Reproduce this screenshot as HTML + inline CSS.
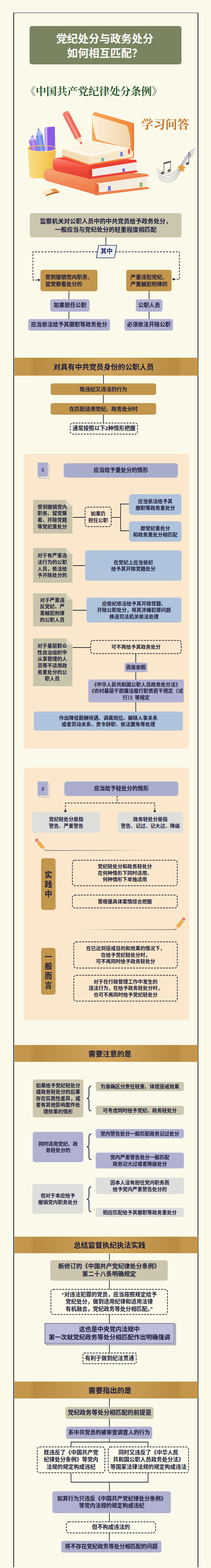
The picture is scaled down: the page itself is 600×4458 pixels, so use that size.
<!DOCTYPE html>
<html lang="zh-CN"><head><meta charset="utf-8"><title>党纪处分与政务处分如何相互匹配</title>
<style>
html,body{margin:0;padding:0}
html{width:600px;height:4458px;overflow:hidden}
body{width:600px;height:4458px;background:#fbfaea;position:relative;overflow:hidden;font-family:"Liberation Sans","Noto Sans CJK SC",sans-serif;color:#1c1c3a}
#frame{position:absolute;left:38.3px;top:36.2px;width:521.5px;height:4419.3px;border:2.5px solid #0c0c0c;border-top-width:1.8px;border-bottom:none;box-sizing:content-box}
.title{position:absolute;background:#7a8460;border-radius:7px;color:#fff;font-weight:bold;font-size:30.7px;line-height:41px;padding-top:5px;padding-right:4px;box-sizing:border-box;text-align:center;display:flex;align-items:center;justify-content:center;white-space:nowrap}
.b{position:absolute;display:flex;align-items:center;justify-content:center;text-align:center;font-weight:bold;white-space:nowrap;box-sizing:border-box;border-radius:6px;line-height:1.32}
.f13{font-size:14px}.f14{font-size:15.5px}.f15{font-size:17px}.f17{font-size:17px;line-height:24px;padding-top:2px}
.left{text-align:left}
.gold{background:#c3964d;font-size:15px !important}
.lav{background:#b1b2d2}
.lav2{background:#bcbeda;border:1.8px solid #1a1a44;border-radius:0;font-size:17.3px !important}
.dbl{position:absolute;border:1.5px solid #1a1a44;box-sizing:border-box;background:#e9e9f1}
.blue{background:#afc3dc}
.beige{background:#ccc6af}
.gray{background:#dededc}
.dash{}
.fill{}
.r8{border-radius:8px}.lav.r8{background:#a9accd}.r3{border-radius:3px}
.band{position:absolute;left:40.5px;width:522px;background:#c4964c;display:flex;align-items:center;justify-content:center;font-weight:bold;font-size:20.4px;color:#1c1c3a}
.band span{position:absolute;width:400px;text-align:center;white-space:nowrap}
.bandin{position:absolute;left:45px;right:47px;top:0;bottom:0;background:linear-gradient(90deg,#c0924a 0%,#b98b42 3%,#c99d55 35%,#cfa45c 50%,#c99d55 65%,#b98b42 97%,#c0924a 100%)}
.panel{position:absolute;background:#fbe8cc;border-radius:9px}
.num{position:absolute;width:29px;height:40px;background:#abaed0;font-weight:bold;font-size:13px;display:flex;align-items:center;justify-content:center}
.numbg{position:absolute;width:29px;height:40px;border:1px solid #9a9cba;box-sizing:border-box;background:#f3e6d6}
.note{background:#c8c4ab;border-radius:0;line-height:1.33;padding-right:3px}
.note i{position:absolute;right:0;top:0;width:18px;height:18px;background:linear-gradient(45deg,#dcd7c0 50%,#fbe8cc 50%)}
.vlabel{position:absolute;background:#c3964d;border-radius:7px;font-weight:bold;font-size:21.5px;line-height:27px;box-sizing:border-box;display:flex;align-items:center;justify-content:center;text-align:center}
svg.ov{position:absolute;left:0;top:0;z-index:1}
.b,.title,.vlabel,.num{z-index:2}
.numbg{z-index:1}
</style></head><body>
<div id="frame"></div>
<div class="title" style="left:84px;top:74px;width:432px;height:109px"><span>党纪处分与政务处分<br>如何相互匹配？</span></div>
<div class="b beige f17" style="left:85px;top:606px;width:431px;height:69px;"><span>监察机关对公职人员中的中共党员给予政务处分，<br>一般应当与党纪处分的轻重程度相匹配</span></div>
<div class="b" style="left:274px;top:697.5px;width:58px;height:36px;color:#1f2a6b;font-size:17px"><span>其中</span></div>
<div class="b gold f14 left" style="left:115px;top:767px;width:162px;height:61px;"><span>受到撤销党内职务、<br>留党察看处分的</span></div>
<div class="b gold f14 left" style="left:359px;top:767px;width:129px;height:61px;"><span>严重违犯党纪、<br>严重触犯刑律的</span></div>
<div class="b lav f14" style="left:143px;top:851px;width:112px;height:35px;"><span>如果担任公职</span></div>
<div class="b lav f14" style="left:80px;top:907px;width:233px;height:33px;"><span>应当依法给予其撤职等政务处分</span></div>
<div class="b lav f14" style="left:386px;top:851px;width:76px;height:35px;"><span>公职人员</span></div>
<div class="b lav f14" style="left:354px;top:907px;width:138px;height:33px;"><span>必须依法开除公职</span></div>
<div class="band" style="top:1016.5px;height:51.0px"><div class="bandin"></div><span style="left:54px">对具有中共党员身份的公职人员</span></div>
<div class="b gold f14" style="left:144px;top:1090px;width:300px;height:33px;"><span>既违纪又违法的行为</span></div>
<div class="b gold f14" style="left:144px;top:1146px;width:300px;height:33px;"><span>在匹配适用党纪、政务处分时</span></div>
<div class="b dash f14" style="left:199px;top:1202px;width:193px;height:33px;"><span>通常按照以下2种情形把握</span></div>
<div class="panel" style="left:68px;top:1289.5px;width:469.5px;height:839.5px"></div>
<div class="numbg" style="left:111px;top:1320px"></div><div class="num" style="left:107px;top:1315px">1</div>
<div class="b lav f14 r8" style="left:181px;top:1317px;width:325px;height:41px;"><span>应当给予重处分的情形</span></div>
<div class="b note f13" style="left:94px;top:1421px;width:112px;height:96px"><i></i><span>受到撤销党内<br>职务、留党察<br>看、开除党籍<br>等党纪重处分</span></div>
<div class="b dash f13" style="left:241px;top:1441px;width:76px;height:57px;"><span>如果仍<br>担任公职</span></div>
<div class="b blue f13 r8" style="left:367px;top:1405px;width:149px;height:59px;"><span>应当依法给予其<br>撤职等政务重处分</span></div>
<div class="b blue f13 r8" style="left:367px;top:1482px;width:149px;height:58px;"><span>即党纪重处分<br>和政务重处分相匹配</span></div>
<div class="b note f13" style="left:94px;top:1558px;width:112px;height:99px"><i></i><span>对于有严重违<br>法行为的公职<br>人员，依法给<br>予开除处分的</span></div>
<div class="b blue f13" style="left:242px;top:1565px;width:274px;height:86px;"><span>在党纪上应当依纪<br>给予其开除党籍处分</span></div>
<div class="b note f13" style="left:94px;top:1687px;width:112px;height:94px"><i></i><span>对于严重违<br>反党纪、严<br>重触犯刑律<br>的公职人员</span></div>
<div class="b blue f13" style="left:246px;top:1699px;width:270px;height:71px;"><span>应依纪依法给予其开除党籍、<br>开除公职处分，将其涉嫌犯罪问题<br>移送司法机关依法处理</span></div>
<div class="b note f13" style="left:94px;top:1815px;width:112px;height:136px"><i></i><span>对于基层群众<br>性自治组织中<br>从事管理的人<br>员等不适用政<br>务重处分的公<br>职人员</span></div>
<div class="b dash f13" style="left:257px;top:1820px;width:259px;height:39px;"><span>可不再给予其政务处分</span></div>
<div class="b lav f13" style="left:354px;top:1884px;width:65px;height:27px;"><span>而是依照</span></div>
<div class="b lav f13" style="left:251px;top:1932px;width:272px;height:65px;"><span>《中华人民共和国公职人员政务处分法》<br>《农村基层干部廉洁履行职责若干规定（试<br>行）》等规定</span></div>
<div class="b blue f13" style="left:96px;top:2023px;width:424px;height:54px;"><span>作出降低薪酬待遇、调离岗位、解除人事关系<br>或者劳动关系、责令辞职、依法罢免等处理</span></div>
<div class="panel" style="left:68px;top:2181.5px;width:469.5px;height:719px"></div>
<div class="numbg" style="left:111px;top:2227px"></div><div class="num" style="left:107px;top:2222px">2</div>
<div class="b lav f14 r8" style="left:183px;top:2222px;width:324px;height:41px;"><span>应当给予轻处分的情形</span></div>
<div class="b gray f13" style="left:91px;top:2309px;width:194px;height:59px;"><span>党纪轻处分是指<br>警告、严重警告</span></div>
<div class="b gray f13" style="left:335px;top:2309px;width:185px;height:59px;"><span>政务轻处分是指<br>警告、记过、记大过、降级</span></div>
<div class="vlabel" style="left:117px;top:2440px;width:41px;height:147px;padding-top:4px">实<br>践<br>中</div>
<div class="b dash f13" style="left:205px;top:2445px;width:300px;height:74px;"><span>党纪轻处分和政务轻处分<br>在何种情形下同时适用、<br>何种情形下单独适用</span></div>
<div class="b dash f13" style="left:205px;top:2544px;width:300px;height:38px;"><span>需根据具体案情综合把握</span></div>
<div class="vlabel" style="left:117px;top:2695px;width:41px;height:133px">一<br>般<br>而<br>言</div>
<div class="b dash f13" style="left:209px;top:2677px;width:296px;height:76px;"><span>在已达到惩戒目的和效果的情况下，<br>在给予党纪轻处分时，<br>可不再同时给予政务轻处分</span></div>
<div class="b dash f13" style="left:209px;top:2772px;width:296px;height:75px;"><span>对于在行政管理工作中发生的<br>违法行为，在给予政务轻处分时，<br>也可不再同时给予党纪轻处分</span></div>
<div class="band" style="top:2970.5px;height:48.5px"><div class="bandin"></div><span style="left:72px">需要注意的是</span></div>
<div class="b beige f13" style="left:93px;top:3069px;width:144px;height:108px;"><span>如果给予党纪轻处分<br>或政务轻处分的后果<br>存在实质性差异，或<br>者有其他影响案件处<br>理效果的情形</span></div>
<div class="b beige f13" style="left:272px;top:3076px;width:251px;height:26px;"><span>为准确区分责任轻重、体现惩戒效果</span></div>
<div class="b beige f13" style="left:272px;top:3144px;width:251px;height:26px;"><span>可考虑同时给予党纪、政务轻处分</span></div>
<div class="b lav f13" style="left:93px;top:3218px;width:144px;height:86px;"><span>同时适用党纪、政<br>务轻处分的</span></div>
<div class="b lav f13" style="left:272px;top:3210px;width:251px;height:26px;"><span>党内警告处分一般匹配政务记过处分</span></div>
<div class="b lav f13" style="left:272px;top:3277px;width:251px;height:45px;"><span>党内严重警告处分一般匹配<br>政务记大过或者降级处分</span></div>
<div class="b gray f13" style="left:92px;top:3366px;width:145px;height:85px;"><span>但对于本应给予<br>撤销党内职务处分</span></div>
<div class="b gray f13" style="left:272px;top:3348px;width:251px;height:47px;"><span>因本人没有担任党内职务而<br>给予党内严重警告处分的</span></div>
<div class="b gray f13" style="left:272px;top:3434px;width:251px;height:26px;"><span>则应匹配给予其撤职等政务重处分</span></div>
<div class="band" style="top:3516px;height:46.5px"><div class="bandin"></div><span style="left:71px">总结监督执纪执法实践</span></div>
<div class="b beige f15" style="left:143px;top:3583px;width:334px;height:58px;"><span>新修订的《中国共产党纪律处分条例》<br>第二十八条明确规定</span></div>
<div class="b dash f14" style="left:144px;top:3665px;width:333px;height:73px;"><span>“对违法犯罪的党员，应当按照规定给予<br>党纪处分，做到适用纪律和适用法律<br>有机融合，党纪政务等处分相匹配。”</span></div>
<div class="dbl" style="left:130.5px;top:3766px;width:369.5px;height:58px"></div>
<div class="b lav2 f15" style="left:126.5px;top:3762px;width:369.5px;height:57.5px;"><span>这也是中央党内法规中<br>第一次就党纪政务等处分相匹配作出明确强调</span></div>
<div class="b dash f14 r3" style="left:235px;top:3846px;width:153px;height:32px;"><span>有利于做到纪法贯通</span></div>
<div class="band" style="top:3927.5px;height:48.0px"><div class="bandin"></div><span style="left:72px">需要指出的是</span></div>
<div class="b beige f15" style="left:186px;top:4000px;width:251px;height:34px;"><span>党纪政务等处分相匹配的前提是</span></div>
<div class="b lav f14" style="left:188px;top:4056px;width:245px;height:35px;"><span>系中共党员的被审查调查人的行为</span></div>
<div class="b dash f14 fill" style="left:105px;top:4113px;width:194px;height:75px;"><span>既违反了《中国共产党<br>纪律处分条例》等党内<br>法规的规定构成违纪</span></div>
<div class="b dash f14 fill" style="left:307px;top:4113px;width:230px;height:75px;"><span>同时又违反了《中华人民<br>共和国公职人员政务处分法》<br>等国家法律法规的规定构成违法</span></div>
<div class="b lav f14" style="left:149px;top:4240px;width:337px;height:62px;"><span>如其行为只违反《中国共产党纪律处分条例》<br>等党内法规的规定构成违纪</span></div>
<div class="b dash f14 fill" style="left:188px;top:4326px;width:255px;height:33px;"><span>但不构成违法的</span></div>
<div class="b lav f14" style="left:174px;top:4381px;width:285px;height:33px;"><span>将不存在党纪政务等处分相匹配的问题</span></div>
<svg class="ov" width="600" height="4458" viewBox="0 0 600 4458">
<path d="M301 674V698" fill="none" stroke="#1f1f2e" stroke-width="1.8"/>
<path d="M280.5 697.5H332L325.5 733H274Z" fill="#eef0ee" stroke="#1f2a6b" stroke-width="1.7"/>
<path d="M276 716H93.5V796H108" fill="none" stroke="#1f1f2e" stroke-width="1.9" stroke-dasharray="5.5 3.5"/>
<path d="M108 792L115 796L108 800Z" fill="#1f1f2e"/>
<path d="M329 716H510V794H496" fill="none" stroke="#1f1f2e" stroke-width="1.9" stroke-dasharray="5.5 3.5"/>
<path d="M496 790L489 794L496 798Z" fill="#1f1f2e"/>
<path d="M196 828V851" fill="none" stroke="#1f1f2e" stroke-width="1.8"/>
<path d="M196 886V907" fill="none" stroke="#1f1f2e" stroke-width="1.8"/>
<path d="M424 828V851" fill="none" stroke="#1f1f2e" stroke-width="1.8"/>
<path d="M424 886V907" fill="none" stroke="#1f1f2e" stroke-width="1.8"/>
<path d="M294 1066V1090" fill="none" stroke="#1f1f2e" stroke-width="1.8"/>
<path d="M294 1123V1146" fill="none" stroke="#1f1f2e" stroke-width="1.8"/>
<path d="M294 1179V1202" fill="none" stroke="#1f1f2e" stroke-width="1.8"/>
<rect x="199.8" y="1202.8" width="191.4" height="31.4" rx="7" fill="none" stroke="#17172a" stroke-width="1.9" stroke-dasharray="5.5 3"/>
<path d="M207 1471H241" fill="none" stroke="#1f1f2e" stroke-width="1.8"/>
<rect x="241.8" y="1441.8" width="74.4" height="55.4" rx="7" fill="none" stroke="#17172a" stroke-width="1.9" stroke-dasharray="5.5 3"/>
<path d="M317 1471H343" fill="none" stroke="#1f1f2e" stroke-width="1.8"/>
<path d="M367 1433H343V1509H367" fill="none" stroke="#1f1f2e" stroke-width="1.8"/>
<path d="M207 1608H242" fill="none" stroke="#1f1f2e" stroke-width="1.8"/>
<path d="M207 1735H246" fill="none" stroke="#1f1f2e" stroke-width="1.8"/>
<path d="M207 1841H257" fill="none" stroke="#1f1f2e" stroke-width="1.8"/>
<rect x="257.8" y="1820.8" width="257.4" height="37.4" rx="7" fill="none" stroke="#17172a" stroke-width="1.9" stroke-dasharray="5.5 3"/>
<path d="M386 1859V1884" fill="none" stroke="#1f1f2e" stroke-width="1.8"/>
<path d="M386 1911V1932" fill="none" stroke="#1f1f2e" stroke-width="1.8"/>
<path d="M386 1997V2023" fill="none" stroke="#1f1f2e" stroke-width="1.8"/>
<path d="M333 2263V2283" fill="none" stroke="#1f1f2e" stroke-width="1.9" stroke-dasharray="5.5 3.5"/>
<path d="M186 2304V2283H440V2304" fill="none" stroke="#1f1f2e" stroke-width="1.9" stroke-dasharray="5.5 3.5"/>
<circle cx="186" cy="2306" r="3" fill="#1f1f2e"/><circle cx="440" cy="2306" r="3" fill="#1f1f2e"/>
<rect x="205.8" y="2445.8" width="298.4" height="72.4" rx="7" fill="none" stroke="#17172a" stroke-width="1.9" stroke-dasharray="5.5 3"/>
<rect x="205.8" y="2544.8" width="298.4" height="36.4" rx="7" fill="none" stroke="#17172a" stroke-width="1.9" stroke-dasharray="5.5 3"/>
<rect x="209.8" y="2677.8" width="294.4" height="74.4" rx="7" fill="none" stroke="#17172a" stroke-width="1.9" stroke-dasharray="5.5 3"/>
<rect x="209.8" y="2772.8" width="294.4" height="73.4" rx="7" fill="none" stroke="#17172a" stroke-width="1.9" stroke-dasharray="5.5 3"/>
<path d="M259 3088Q253 3088 253 3096V3115.0Q253 3123.0 247 3123.0Q253 3123.0 253 3131.0V3150Q253 3158 259 3158" fill="none" stroke="#17173a" stroke-width="2.1" stroke-linecap="round"/>
<path d="M259 3224Q253 3224 253 3232V3252.5Q253 3260.5 247 3260.5Q253 3260.5 253 3268.5V3289Q253 3297 259 3297" fill="none" stroke="#17173a" stroke-width="2.1" stroke-linecap="round"/>
<path d="M259 3374Q253 3374 253 3382V3401.5Q253 3409.5 247 3409.5Q253 3409.5 253 3417.5V3437Q253 3445 259 3445" fill="none" stroke="#17173a" stroke-width="2.1" stroke-linecap="round"/>
<path d="M311 3564V3583" fill="none" stroke="#1f1f2e" stroke-width="1.8"/>
<path d="M311 3641V3665" fill="none" stroke="#1f1f2e" stroke-width="1.8"/>
<path d="M311 3738V3762" fill="none" stroke="#1f1f2e" stroke-width="1.8"/>
<path d="M311 3823V3846" fill="none" stroke="#1f1f2e" stroke-width="1.8"/>
<rect x="144.8" y="3665.8" width="331.4" height="71.4" rx="7" fill="none" stroke="#17172a" stroke-width="1.9" stroke-dasharray="5.5 3"/>
<rect x="235.8" y="3846.8" width="151.4" height="30.4" rx="3" fill="none" stroke="#17172a" stroke-width="1.9" stroke-dasharray="5.5 3"/>
<path d="M311 3976V4000" fill="none" stroke="#1f1f2e" stroke-width="1.8"/>
<path d="M311 4034V4056" fill="none" stroke="#1f1f2e" stroke-width="1.8"/>
<path d="M311 4091V4100" fill="none" stroke="#1f1f2e" stroke-width="1.8"/>
<path d="M311 4214V4240" fill="none" stroke="#1f1f2e" stroke-width="1.8"/>
<path d="M311 4302V4326" fill="none" stroke="#1f1f2e" stroke-width="1.8"/>
<path d="M311 4359V4381" fill="none" stroke="#1f1f2e" stroke-width="1.8"/>
<path d="M202 4113V4100H421V4113" fill="none" stroke="#1f1f2e" stroke-width="1.8"/>
<path d="M202 4188V4214H421V4188" fill="none" stroke="#1f1f2e" stroke-width="1.8"/>
<rect x="105.8" y="4113.8" width="192.4" height="73.4" rx="7" fill="#fbfaea" stroke="#17172a" stroke-width="1.9" stroke-dasharray="5.5 3"/>
<rect x="307.8" y="4113.8" width="228.4" height="73.4" rx="7" fill="#fbfaea" stroke="#17172a" stroke-width="1.9" stroke-dasharray="5.5 3"/>
<rect x="188.8" y="4326.8" width="253.4" height="31.4" rx="7" fill="#fbfaea" stroke="#17172a" stroke-width="1.9" stroke-dasharray="5.5 3"/>
</svg>
<svg class="art" width="600" height="4458" viewBox="0 0 600 4458" style="position:absolute;left:0;top:0;z-index:1">
<defs>
<linearGradient id="gCup" x1="0" x2="1" y1="0" y2="0"><stop offset="0" stop-color="#f9df8a"/><stop offset=".5" stop-color="#f6cf62"/><stop offset="1" stop-color="#efb844"/></linearGradient>
<linearGradient id="gRed" x1="0" x2="0" y1="0" y2="1"><stop offset="0" stop-color="#f9897a"/><stop offset=".45" stop-color="#f2503f"/><stop offset="1" stop-color="#e23c30"/></linearGradient>
<linearGradient id="gOr" x1="0" x2="0" y1="0" y2="1"><stop offset="0" stop-color="#f7a878"/><stop offset=".5" stop-color="#f28a58"/><stop offset="1" stop-color="#ee7444"/></linearGradient>
<linearGradient id="gPg" x1="0" x2="1" y1="0" y2="0"><stop offset="0" stop-color="#fdf2dc"/><stop offset="1" stop-color="#f2d3a8"/></linearGradient>
<linearGradient id="gCov" x1="0" x2="1" y1="0" y2="0"><stop offset="0" stop-color="#f7a65a"/><stop offset="1" stop-color="#f2873a"/></linearGradient>
<linearGradient id="gL1" gradientUnits="userSpaceOnUse" x1="129" x2="415" y1="0" y2="0"><stop offset="0" stop-color="#555" stop-opacity="1"/><stop offset=".6" stop-color="#777" stop-opacity=".8"/><stop offset="1" stop-color="#999" stop-opacity="0"/></linearGradient>
<linearGradient id="gL2" gradientUnits="userSpaceOnUse" x1="501" x2="222" y1="0" y2="0"><stop offset="0" stop-color="#555" stop-opacity="1"/><stop offset=".6" stop-color="#777" stop-opacity=".8"/><stop offset="1" stop-color="#999" stop-opacity="0"/></linearGradient>
</defs>
<text x="266.5" y="270" font-size="30" font-weight="bold" fill="#2c5a30" text-anchor="middle" font-family="&quot;Liberation Serif&quot;,&quot;Noto Serif CJK SC&quot;,serif">《中国共产党纪律处分条例》</text>
<text x="470" y="366" font-size="34" font-weight="bold" fill="#c6742c" text-anchor="middle" font-family="&quot;Liberation Serif&quot;,&quot;Noto Serif CJK SC&quot;,serif">学习问答</text>
<ellipse cx="119" cy="422" rx="40" ry="9" fill="#e3a02c"/>
<path d="M92 384L82 400L103 397Z" fill="#d2b8f6"/><path d="M92 384L89 389L96 388Z" fill="#8a5be0"/>
<path d="M82 400L103 397L109 432L89 434Z" fill="#a274ea"/><path d="M89 399L96 398L102 433L95 434Z" fill="#b791f1"/>
<path d="M109 364L102 386L121 383Z" fill="#a9bdf6"/><path d="M109 364L107 370L113 369Z" fill="#5a78dc"/>
<path d="M102 386L121 383L128 432L109 434Z" fill="#6f8de8"/><path d="M108 385L115 384L122 433L115 434Z" fill="#8fa8f2"/>
<path d="M126 366Q126 362 130 362L152 360Q156 360 156 364L157 432L127 432Z" fill="#8a5ce6"/>
<path d="M126 366Q126 362 130 362L134 361.6L135 432L127 432Z" fill="#cfbcf8"/>
<path d="M127 368H131" stroke="#8a5ce6" stroke-width="1"/>
<path d="M127 373H131" stroke="#8a5ce6" stroke-width="1"/>
<path d="M127 378H131" stroke="#8a5ce6" stroke-width="1"/>
<path d="M127 383H131" stroke="#8a5ce6" stroke-width="1"/>
<path d="M127 388H131" stroke="#8a5ce6" stroke-width="1"/>
<path d="M127 393H131" stroke="#8a5ce6" stroke-width="1"/>
<path d="M127 398H131" stroke="#8a5ce6" stroke-width="1"/>
<path d="M127 403H131" stroke="#8a5ce6" stroke-width="1"/>
<path d="M127 408H131" stroke="#8a5ce6" stroke-width="1"/>
<path d="M127 413H131" stroke="#8a5ce6" stroke-width="1"/>
<path d="M127 418H131" stroke="#8a5ce6" stroke-width="1"/>
<path d="M127 423H131" stroke="#8a5ce6" stroke-width="1"/>
<path d="M79 422A40 9 0 0 0 159 422L155 499Q154 507 141 507L98 507Q85 507 84 499Z" fill="url(#gCup)"/>
<path d="M79 422A40 9 0 0 0 159 422" fill="none" stroke="#fbe08a" stroke-width="2.5"/>
<path d="M79.5 421A40 9 0 0 1 158.5 421" fill="none" stroke="#f3c552" stroke-width="2"/>
<path d="M136 480L270 511L270 553L136 515Q124 511 124 497Q124 483 136 480Z" fill="url(#gOr)"/>
<path d="M136 480L252 476L420 495L270 512Z" fill="#f08a56"/>
<path d="M270 511L420 495L424 501L282 521L270 519Z" fill="#f0824c"/>
<path d="M281 521L420 501L420 532L281 548Z" fill="#f7efe3"/>
<path d="M283 526.4L420 507.2" stroke="#e3d6c6" stroke-width=".8"/>
<path d="M283 531.8L420 513.4" stroke="#e3d6c6" stroke-width=".8"/>
<path d="M283 537.2L420 519.6" stroke="#e3d6c6" stroke-width=".8"/>
<path d="M283 542.6L420 525.8" stroke="#e3d6c6" stroke-width=".8"/>
<path d="M270 519Q279 521 281 528L281 548L270 553Z" fill="#e8693c"/>
<path d="M270 549L281 547L420 531L425 537L270 556Z" fill="#f0824c"/>
<path d="M307 529h8v16l-4-4-4 4z" fill="#7a78d6"/><path d="M397 519h8v14l-4-3-4 3z" fill="#7cc05a"/>
<path d="M160 449L253 472L253 508L160 486Q150 482 150 467Q150 452 160 449Z" fill="url(#gRed)"/>
<path d="M160 449L250 440L388 455L253 473Z" fill="#ee4a3c"/>
<path d="M253 471L386 454L390 461L263 481L253 478Z" fill="#ea4034"/>
<path d="M262 481L388 461L388 486L262 504Z" fill="#f4efec"/>
<path d="M264 485.6L388 466" stroke="#ddd5d0" stroke-width=".8"/>
<path d="M264 490.2L388 471" stroke="#ddd5d0" stroke-width=".8"/>
<path d="M264 494.8L388 476" stroke="#ddd5d0" stroke-width=".8"/>
<path d="M264 499.4L388 481" stroke="#ddd5d0" stroke-width=".8"/>
<path d="M253 478Q261 480 262 486L262 503L253 508Z" fill="#d8342c"/>
<path d="M253 504L262 502L388 484L392 489L253 510Z" fill="#ea4034"/>
<path d="M348 479h7v12l-3.5-3-3.5 3z" fill="#8a64c8"/>
<path d="M269 318L377 349L381 353L381 428L371 433L262 400L262 327Z" fill="url(#gCov)"/>
<path d="M377 349L381 353L381 428L377 431Z" fill="#e8742e"/>
<path d="M262 327L361 357Q373 386 371 421Q330 413 274 396Q262 360 262 327Z" fill="url(#gPg)"/>
<path d="M264 339Q310 349.5 362.8 368" fill="none" stroke="#eccba0" stroke-width=".8" opacity=".12"/>
<path d="M266 351Q310 361.0 364.6 379" fill="none" stroke="#eccba0" stroke-width=".8" opacity=".12"/>
<path d="M268 363Q310 372.5 366.4 390" fill="none" stroke="#eccba0" stroke-width=".8" opacity=".12"/>
<path d="M270 375Q310 384.0 368.2 401" fill="none" stroke="#eccba0" stroke-width=".8" opacity=".12"/>
<path d="M272 387Q310 395.5 370.0 412" fill="none" stroke="#eccba0" stroke-width=".8" opacity=".12"/>
<path d="M284 348.6L288 396.4" stroke="#f1d6b0" stroke-width="1.6" opacity=".45"/>
<path d="M300 353.4L304 399.6" stroke="#f1d6b0" stroke-width="1.6" opacity=".45"/>
<path d="M316 358.2L320 402.8" stroke="#f1d6b0" stroke-width="1.6" opacity=".45"/>
<path d="M332 363.0L336 406.0" stroke="#f1d6b0" stroke-width="1.6" opacity=".45"/>
<path d="M348 367.8L352 409.2" stroke="#f1d6b0" stroke-width="1.6" opacity=".45"/>
<path d="M177 423L246 397L371 421L253 446Z" fill="#fef7e8"/>
<path d="M177 423L253 446L253 467L177 441Z" fill="#f4dfba"/>
<path d="M253 446L371 421Q379 432 376 446L253 467Z" fill="#f9eacd"/>
<path d="M253 451.2L376 427.6" stroke="#ecd3a8" stroke-width=".8"/>
<path d="M177 427.5L253 451.2" stroke="#e6cb9e" stroke-width=".8"/>
<path d="M253 456.4L376 433.2" stroke="#ecd3a8" stroke-width=".8"/>
<path d="M177 432.0L253 456.4" stroke="#e6cb9e" stroke-width=".8"/>
<path d="M253 461.6L376 438.8" stroke="#ecd3a8" stroke-width=".8"/>
<path d="M177 436.5L253 461.6" stroke="#e6cb9e" stroke-width=".8"/>
<path d="M206 421.0L262 402.0" stroke="#f0dcc0" stroke-width="1.3"/>
<path d="M216 424.4L275 405.4" stroke="#f0dcc0" stroke-width="1.3"/>
<path d="M226 427.8L288 408.8" stroke="#f0dcc0" stroke-width="1.3"/>
<path d="M236 431.2L301 412.2" stroke="#f0dcc0" stroke-width="1.3"/>
<path d="M246 434.6L314 415.6" stroke="#f0dcc0" stroke-width="1.3"/>
<path d="M256 438.0L327 419.0" stroke="#f0dcc0" stroke-width="1.3"/>
<path d="M177 443L253 469L378 448" fill="none" stroke="#f08a3c" stroke-width="3" stroke-linejoin="round"/>
<path d="M371 421Q384 432 378 449" fill="none" stroke="#f08a3c" stroke-width="3"/>
<path d="M342 432h7v14l-3.5-3-3.5 3z" fill="#6f80d6"/><path d="M288 449h7v11l-3.5-3-3.5 3z" fill="#5fb3a4"/><path d="M364 424h6v15l-3-3-3 3z" fill="#e85a48"/>
<g transform="translate(185 318) rotate(-27.3)">
<path d="M-9.5 6Q-9.5 0 0 0Q9.5 0 9.5 6L9.5 84L-9.5 84Z" fill="#f0655a"/>
<path d="M-9 6Q-9 0 0 0Q9 0 9 6L9 11L-9 11Z" fill="#f5806c"/>
<path d="M-5 11H2.5V84H-5Z" fill="#f7998a"/>
<path d="M-9.5 84L9.5 84L0 106Z" fill="#f8dcc0"/><path d="M-3.2 97.5L3.2 97.5L0 105Z" fill="#c2483a"/>
</g>
<path d="M122 545L143 538L152 546L131 554Z" fill="#fbe9c6"/><path d="M143 538L157 536L168 544L152 546Z" fill="#f29a4a"/>
<path d="M122 545L131 554L131 558L122 549Z" fill="#e8cfa0"/><path d="M131 554L152 546L168 544L168 548L152 551L131 558Z" fill="#b8682c"/>
<path d="M445.0 480.0C474 498 496 497 511 473.0S534 430 558.0 420" fill="none" stroke="#c3c3cf" stroke-width="2.3" opacity=".95"/>
<path d="M446.5 486.5C474 505 496 503 511 477.5S533 434 555.5 426" fill="none" stroke="#c3c3cf" stroke-width="2.3" opacity=".95"/>
<path d="M448.0 493.0C474 512 496 509 511 482.0S532 438 553.0 432" fill="none" stroke="#c3c3cf" stroke-width="2.3" opacity=".95"/>
<path d="M449.5 499.5C474 519 496 515 511 486.5S531 442 550.5 438" fill="none" stroke="#c3c3cf" stroke-width="2.3" opacity=".95"/>
<path d="M451.0 506.0C474 526 496 521 511 491.0S530 446 548.0 444" fill="none" stroke="#c3c3cf" stroke-width="2.3" opacity=".95"/>
<g fill="#675c5d" stroke="#675c5d"><ellipse cx="462" cy="492" rx="4.5" ry="3.2" transform="rotate(-20 462 492)"/><ellipse cx="481" cy="485" rx="4.5" ry="3.2" transform="rotate(-20 481 485)"/>
<path d="M466 491V462M485 484V457" stroke-width="1.6" fill="none"/><path d="M466 462L485 457V462L466 467Z" stroke="none"/>
<ellipse cx="533" cy="465" rx="4.5" ry="3.2" transform="rotate(-20 533 465)"/><path d="M537 464V433Q543 438 541 446" stroke-width="1.6" fill="none"/></g>
<path d="M517.5 468.1L519.7 474.3L525.9 476.4L520.6 480.3L520.6 486.9L515.2 483.1L509.0 485.1L510.9 478.8L507.1 473.5L513.6 473.4Z" fill="#e69c3a" stroke="#e69c3a" stroke-width="3" stroke-linejoin="round"/>
<path d="M129 2418H480" stroke="url(#gL1)" stroke-width="1.6"/>
<g transform="translate(129 2417.5) rotate(-41)">
<path d="M-4.5 -38Q-4.5 -42 0 -42Q4.5 -42 4.5 -38V-35H-4.5Z" fill="#f0706a"/>
<path d="M-4.5 -35H4.5V-32H-4.5Z" fill="#c9c9c9"/>
<path d="M-4.5 -32H4.5V-9H-4.5Z" fill="#f0922c"/><path d="M-1.5 -32H1.8V-9H-1.5Z" fill="#f9c26e"/>
<path d="M-4.5 -9H4.5L0 0Z" fill="#f6dcb4"/><path d="M-1.6 -3.2H1.6L0 0Z" fill="#333"/>
</g>
<path d="M226 2643H499" stroke="url(#gL2)" stroke-width="1.6"/>
<g transform="translate(499 2643) rotate(38)">
<path d="M-4.5 -38Q-4.5 -42 0 -42Q4.5 -42 4.5 -38V-35H-4.5Z" fill="#f0706a"/>
<path d="M-4.5 -35H4.5V-32H-4.5Z" fill="#c9c9c9"/>
<path d="M-4.5 -32H4.5V-9H-4.5Z" fill="#f0922c"/><path d="M-1.5 -32H1.8V-9H-1.5Z" fill="#f9c26e"/>
<path d="M-4.5 -9H4.5L0 0Z" fill="#f6dcb4"/><path d="M-1.6 -3.2H1.6L0 0Z" fill="#333"/>
</g>
</svg>
</body></html>
